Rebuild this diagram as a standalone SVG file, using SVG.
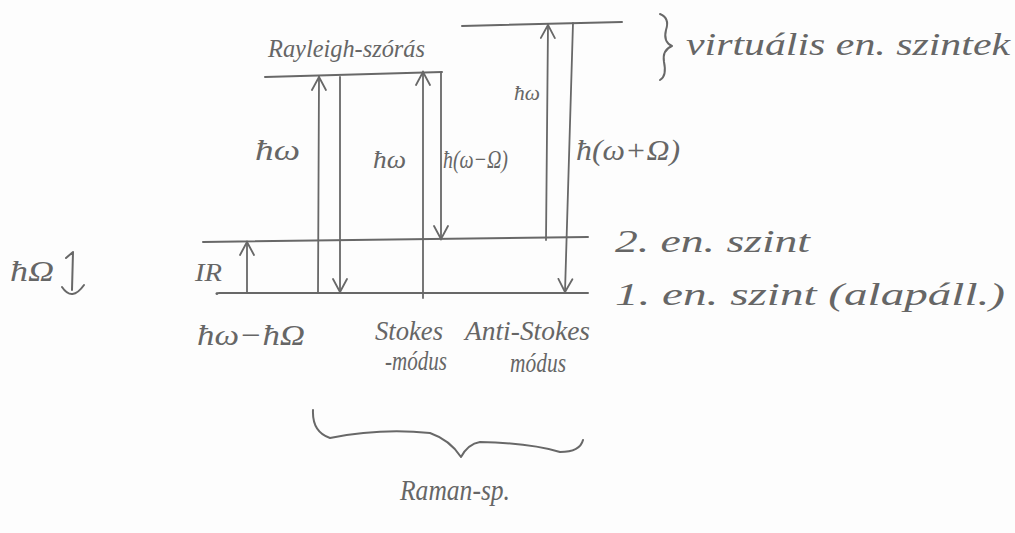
<svg xmlns="http://www.w3.org/2000/svg" width="1015" height="533" viewBox="0 0 1015 533">
<style>
.ln{stroke:#686868;stroke-width:2;fill:none;stroke-linecap:round;stroke-linejoin:round}
.ar{stroke:#686868;stroke-width:1.8;fill:none;stroke-linecap:round;marker-end:url(#v)}
.t{font-family:"Liberation Serif","DejaVu Serif",serif;font-style:italic;fill:#666666}
</style>
<defs>
<marker id="v" viewBox="-14 -9 16 18" refX="0" refY="0" markerWidth="16" markerHeight="18" markerUnits="userSpaceOnUse" orient="auto">
<path d="M-13,-7 L0,0 L-13,7" fill="none" stroke="#686868" stroke-width="1.8" stroke-linecap="round"/>
</marker>
</defs>
<rect width="1015" height="533" fill="#fdfdfd"/>

<g id="virtual-left">
<path class="ln" d="M265,77 L442,72"/>
<text class="t" x="268" y="57" font-size="25" textLength="157" lengthAdjust="spacingAndGlyphs">Rayleigh-szórás</text>
</g>
<g id="virtual-right">
<path class="ln" d="M462,26 L622,22"/>
</g>
<g id="virtual-label">
<path class="ln" d="M660,14 Q670,18 666,30 Q663,42 672,46 Q662,50 664,62 Q667,76 660,80" stroke-width="1.6"/>
<text class="t" x="686" y="55" font-size="32" textLength="324" lengthAdjust="spacingAndGlyphs">virtuális en. szintek</text>
</g>
<g id="level-2">
<path class="ln" d="M203,242 L588,237"/>
<text class="t" x="615" y="252" font-size="32" textLength="195" lengthAdjust="spacingAndGlyphs">2. en. szint</text>
</g>
<g id="level-1">
<path class="ln" d="M217,294 Q215,293 220,293 L588,293"/>
<text class="t" x="615" y="305" font-size="32" textLength="390" lengthAdjust="spacingAndGlyphs">1. en. szint (alapáll.)</text>
</g>
<g id="phonon">
<text class="t" x="10" y="281" font-size="30" textLength="44" lengthAdjust="spacingAndGlyphs">ħΩ</text>
<path class="ln" d="M66,258 L73,252 L72,290 M62,287 Q72,302 84,285" stroke-width="1.6"/>
</g>
<g id="ir-label">
<text class="t" x="195" y="281" font-size="26" textLength="27" lengthAdjust="spacingAndGlyphs">IR</text>
</g>
<g id="rayleigh-label">
<text class="t" x="197" y="345" font-size="30" textLength="108" lengthAdjust="spacingAndGlyphs">ħω−ħΩ</text>
</g>
<g id="stokes-label">
<text class="t" x="375" y="340" font-size="28" textLength="68" lengthAdjust="spacingAndGlyphs">Stokes</text>
<text class="t" x="385" y="370" font-size="28" textLength="62" lengthAdjust="spacingAndGlyphs">-módus</text>
</g>
<g id="antistokes-label">
<text class="t" x="465" y="340" font-size="28" textLength="125" lengthAdjust="spacingAndGlyphs">Anti-Stokes</text>
<text class="t" x="510" y="372" font-size="28" textLength="56" lengthAdjust="spacingAndGlyphs">módus</text>
</g>
<g id="raman">
<path class="ln" d="M313,410 Q312,432 330,438 Q380,428 430,433 Q450,440 461,457 Q468,444 480,442 Q530,443 560,452 Q580,452 583,440" stroke-width="1.8"/>
<text class="t" x="400" y="500" font-size="30" textLength="110" lengthAdjust="spacingAndGlyphs">Raman-sp.</text>
</g>

<g id="connectors">
<path class="ar" d="M247,293 L247,242"/>
<path class="ar" d="M318,293 L319,77"/>
<path class="ar" d="M340,77 L340,292"/>
<path class="ar" d="M423,298 L423,72"/>
<path class="ar" d="M441,73 L441,239"/>
<path class="ar" d="M546,240 L548,25"/>
<path class="ar" d="M573,23 L565,292"/>
<text class="t" x="255" y="160" font-size="30" textLength="45" lengthAdjust="spacingAndGlyphs">ħω</text>
<text class="t" x="373" y="168" font-size="26" textLength="33" lengthAdjust="spacingAndGlyphs">ħω</text>
<text class="t" x="443" y="168" font-size="26" textLength="65" lengthAdjust="spacingAndGlyphs">ħ(ω−Ω)</text>
<text class="t" x="514" y="100" font-size="22" textLength="26" lengthAdjust="spacingAndGlyphs">ħω</text>
<text class="t" x="576" y="160" font-size="30" textLength="104" lengthAdjust="spacingAndGlyphs">ħ(ω+Ω)</text>
</g>
</svg>
